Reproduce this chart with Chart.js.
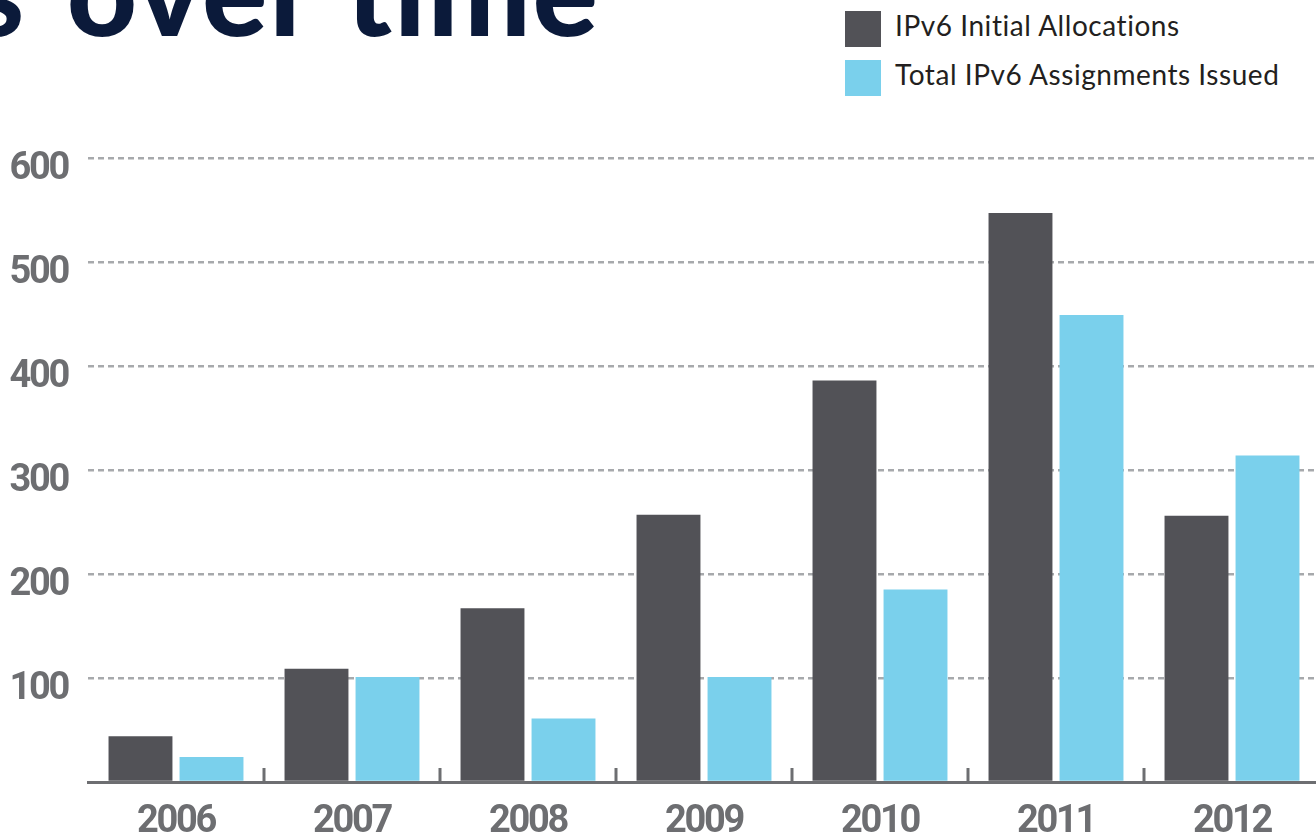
<!DOCTYPE html>
<html>
<head>
<meta charset="utf-8">
<script src="https://cdn.jsdelivr.net/npm/chart.js@4/dist/chart.umd.min.js"></script>
<style>
  html, body { margin: 0; padding: 0; background: #fff; overflow: hidden; width: 1316px; height: 838px; }
  #wrap { position: absolute; left: 0; top: 0; width: 1320px; height: 838px; }
  #title { position: absolute; left: -29px; top: -84px; font: bold 122px Lato, sans-serif; color: #0b1a3a; letter-spacing: 2px; white-space: nowrap; }
  #title b { margin-left: 40px; }
  .leg { position: absolute; left: 845px; font: 28px Lato, sans-serif; color: #231f20; white-space: nowrap; letter-spacing: 0.55px; }
  .leg span { display: inline-block; width: 36px; height: 36px; vertical-align: middle; margin-right: 14px; }
</style>
</head>
<body>
<div id="title">s<b>over time</b></div>
<div class="leg" style="top:8px"><span id="sw0"></span>IPv6 Initial Allocations</div>
<div class="leg" style="top:57px"><span id="sw1"></span>Total IPv6 Assignments Issued</div>
<div id="wrap"><canvas id="grafico" width="1320" height="838"></canvas></div>
<script>
// dados
const anos = ['2006', '2007', '2008', '2009', '2010', '2011', '2012'];
const alocacoesIniciais = [44, 109, 167, 257, 386, 547, 256];
const atribuicoesTotais = [24, 101, 61, 101, 185, 449, 314];
const nomesSeries = ['IPv6 Initial Allocations', 'Total IPv6 Assignments Issued'];
const cores = ['#525257', '#7ad0ec'];
const yTicks = [100, 200, 300, 400, 500, 600];

document.getElementById('sw0').style.background = cores[0];
document.getElementById('sw1').style.background = cores[1];

const cinza = '#6d6e71';
// fonte estreita não existe aqui: Roboto bold com espaçamento negativo
const fonteEixo = { family: "Roboto, 'Liberation Sans', sans-serif", size: 38, weight: 'bold' };

const textoEstreito = {
  id: 'textoEstreito',
  beforeDraw(chart) { chart.ctx.letterSpacing = '-2.3px'; }
};

// marcas curtas do eixo x entre as categorias
const marcasEixo = {
  id: 'marcasEixo',
  afterDatasetsDraw(chart) {
    const area = chart.chartArea, c = chart.ctx;
    const w = (area.right - area.left) / anos.length;
    c.save();
    c.strokeStyle = cinza;
    c.lineWidth = 3;
    for (let i = 1; i <= anos.length; i++) {
      const px = area.left + w * i;
      c.beginPath();
      c.moveTo(px, area.bottom - 14);
      c.lineTo(px, area.bottom);
      c.stroke();
    }
    c.restore();
  }
};

new Chart(document.getElementById('grafico'), {
  type: 'bar',
  data: {
    labels: anos,
    datasets: [
      { label: nomesSeries[0], data: alocacoesIniciais, backgroundColor: cores[0] },
      { label: nomesSeries[1], data: atribuicoesTotais, backgroundColor: cores[1] }
    ]
  },
  options: {
    responsive: false,
    animation: false,
    layout: { padding: { top: 158, right: 0, left: 0, bottom: 0 } },
    datasets: { bar: { categoryPercentage: 0.807, barPercentage: 0.9 } },
    plugins: { legend: { display: false }, tooltip: { enabled: false } },
    scales: {
      x: {
        grid: { display: false },
        border: { display: true, color: cinza, width: 3 },
        ticks: { color: cinza, font: fonteEixo, padding: 10 },
        afterFit(s) { s.height = 56; }
      },
      y: {
        min: 0,
        max: 600,
        afterFit(s) { s.width = 88; },
        afterBuildTicks(s) { s.ticks = [0].concat(yTicks).map(v => ({ value: v })); },
        border: { display: false, dash: [6, 4] },
        grid: {
          color: ctx => ctx.tick && ctx.tick.value === 0 ? 'rgba(0,0,0,0)' : '#a7a9ac',
          lineWidth: 2.5,
          drawTicks: false
        },
        ticks: {
          color: cinza,
          font: fonteEixo,
          padding: 20,
          labelOffset: 11,
          callback: v => v === 0 ? '' : v
        }
      }
    }
  },
  plugins: [textoEstreito, marcasEixo]
});
</script>
</body>
</html>
